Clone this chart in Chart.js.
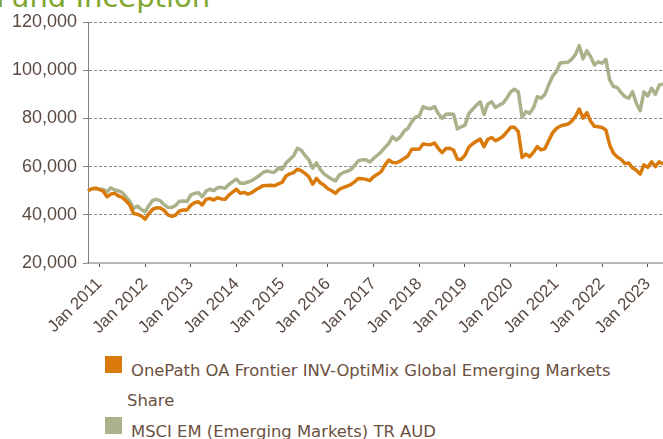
<!DOCTYPE html>
<html>
<head>
<meta charset="utf-8">
<script src="https://cdn.jsdelivr.net/npm/chart.js@4.4.0/dist/chart.umd.min.js"></script>
<style>
  html, body { margin: 0; padding: 0; background: #fff; overflow: hidden; }
  #wrap { position: relative; width: 663px; height: 439px; overflow: hidden; }
  #title { position: absolute; left: -4px; top: -17px; font-family: "DejaVu Sans", sans-serif; font-size: 29px; line-height: 29px; color: #7fa72e; white-space: nowrap; }
  #growth { position: absolute; left: 0; top: 0; }
  .swatch { position: absolute; left: 105px; width: 17px; height: 17px; }
  .item { position: absolute; left: 127px; width: 520px; font-family: "DejaVu Sans", sans-serif; font-size: 16.4px; line-height: 30px; color: #6b5040; text-indent: 4px; }
</style>
</head>
<body>
<div id="wrap">
  <div id="title">Fund Inception</div>
  <canvas id="growth" width="663" height="340"></canvas>
  <div class="swatch" style="top:356px; background:#d97a0b;"></div>
  <div class="item" style="top:356px;">OnePath OA Frontier INV-OptiMix Global Emerging Markets Share</div>
  <div class="swatch" style="top:417px; background:#a9b28b;"></div>
  <div class="item" style="top:417px;">MSCI EM (Emerging Markets) TR AUD</div>
</div>
<script>
// monthly values, Oct 2010 .. May 2023
const startYear = 2010;
const startMonth = 9;
const monthNames = ['Jan', 'Feb', 'Mar', 'Apr', 'May', 'Jun', 'Jul', 'Aug', 'Sep', 'Oct', 'Nov', 'Dec'];

const onePath = [
    50000, 50800, 51000, 50500, 49800, 47500, 48600, 48900, 47800, 47200, 45800, 44000,
    40500, 40200, 39600, 38200, 40500, 42300, 42900, 42800, 41800, 40000, 39300, 39900,
    41600, 42000, 42000, 44000, 45000, 45400, 44100, 46400, 46800, 46100, 47100, 46600,
    46400, 48200, 49400, 50600, 48900, 49300, 48600, 49200, 50300, 51200, 52100, 52200,
    52300, 52100, 52800, 53500, 56100, 57000, 57500, 58900, 58300, 57200, 55800, 52700,
    55100, 53300, 52300, 50800, 50000, 48900, 50600, 51300, 51900, 52500, 53700, 55100,
    55000, 54700, 54200, 55800, 56800, 57900, 60700, 62700, 61700, 61600, 62300, 63400,
    64400, 67200, 67200, 67300, 69400, 69200, 69100, 69800, 67500, 65800, 67500, 67600,
    66800, 63100, 63000, 64700, 68000, 69500, 70500, 71400, 68300, 71300, 72100, 70700,
    71500, 72600, 74400, 76300, 76300, 74500, 63800, 65200, 64100, 66000, 68300, 66900,
    67500, 70800, 74000, 75800, 76800, 77300, 77600, 78800, 80800, 83900, 80100, 82400,
    78800, 76700, 76500, 76200, 75200, 69000, 65500, 64000, 63000, 61300, 61500, 59500,
    58500, 56900, 60700, 59700, 62000, 60000, 62000, 61100
];

const msci = [
    50000, 50800, 51000, 50700, 50500, 49600, 51200, 50300, 50000, 49200, 47500, 45500,
    42700, 43600, 42200, 41300, 43800, 46000, 46400, 45800, 44200, 43100, 43000, 43900,
    45600, 45700, 45500, 48300, 48900, 49200, 47500, 49800, 50600, 50000, 51200, 51400,
    51000, 52600, 53800, 54800, 53100, 53100, 53600, 54200, 55200, 56300, 57600, 58200,
    57800, 57700, 59300, 58900, 61500, 63000, 64500, 67600, 66800, 64600, 62800, 59300,
    61600, 58800, 57000, 55800, 54800, 54000, 56500, 57500, 58000, 58700, 60500, 62400,
    62800, 62800, 61900, 63400, 64700, 66200, 68000, 69600, 72400, 71000, 72300, 74700,
    75900, 78500, 80500, 81000, 84900, 84200, 84000, 84900, 82000, 80000, 81700, 81800,
    81700, 75600, 76500, 77200, 82000, 83800, 85500, 86900, 81700, 86000, 86900, 84500,
    85500, 86300, 88400, 91000, 92100, 91000, 80500, 82800, 82100, 84500, 89000, 88400,
    90000, 94000, 97500, 99400, 103000, 103200, 103300, 104500, 106500, 110200, 104700, 108100,
    105600, 102200, 103500, 102900, 104500, 96000, 93200, 92800, 90700, 89000, 88400, 91100,
    86300, 83200, 91000, 89300, 92500, 90000, 93800, 94300
];

const labels = onePath.map((_, i) =>
    monthNames[(startMonth + i) % 12] + ' ' + (startYear + Math.floor((startMonth + i) / 12)));

const textColor = '#5a4a42';

new Chart(document.getElementById('growth').getContext('2d'), {
    type: 'line',
    data: {
        labels: labels,
        datasets: [
            {
                label: 'OnePath OA Frontier INV-OptiMix Global Emerging Markets Share',
                data: onePath,
                borderColor: '#d97a0b',
                borderWidth: 3.5,
                pointRadius: 0,
                tension: 0,
                borderJoinStyle: 'round'
            },
            {
                label: 'MSCI EM (Emerging Markets) TR AUD',
                data: msci,
                borderColor: '#a9b28b',
                borderWidth: 3.5,
                pointRadius: 0,
                tension: 0,
                borderJoinStyle: 'round'
            }
        ]
    },
    options: {
        responsive: false,
        animation: false,
        layout: { padding: { top: 22, left: 0, right: 0, bottom: 0 } },
        plugins: {
            legend: { display: false },
            tooltip: { enabled: false }
        },
        scales: {
            x: {
                type: 'category',
                offset: false,
                afterFit: s => {
                    s.height = 77;
                    s.paddingRight = 0;
                },
                grid: {
                    drawOnChartArea: false,
                    drawTicks: true,
                    tickLength: 4,
                    tickColor: ctx => (ctx.tick && ctx.tick.label ? '#555555' : 'rgba(0,0,0,0)')
                },
                border: { color: '#b8b8b8', width: 2 },
                ticks: {
                    autoSkip: false,
                    minRotation: 45,
                    maxRotation: 45,
                    padding: 7,
                    color: textColor,
                    font: { family: 'Liberation Sans', size: 17 },
                    callback: function (v) {
                        const l = this.getLabelForValue(v);
                        return l.startsWith('Jan') ? l : null;
                    }
                }
            },
            y: {
                min: 20000,
                max: 120000,
                afterFit: s => { s.width = 88; },
                grid: { color: '#8f8f8f', tickColor: '#888888', tickLength: 5 },
                border: { color: '#8a8079', width: 1, dash: [3, 2] },
                ticks: {
                    stepSize: 20000,
                    padding: 6,
                    color: textColor,
                    font: { family: 'Liberation Sans', size: 18 },
                    callback: v => v.toLocaleString('en-US')
                }
            }
        }
    }
});
</script>
</body>
</html>
